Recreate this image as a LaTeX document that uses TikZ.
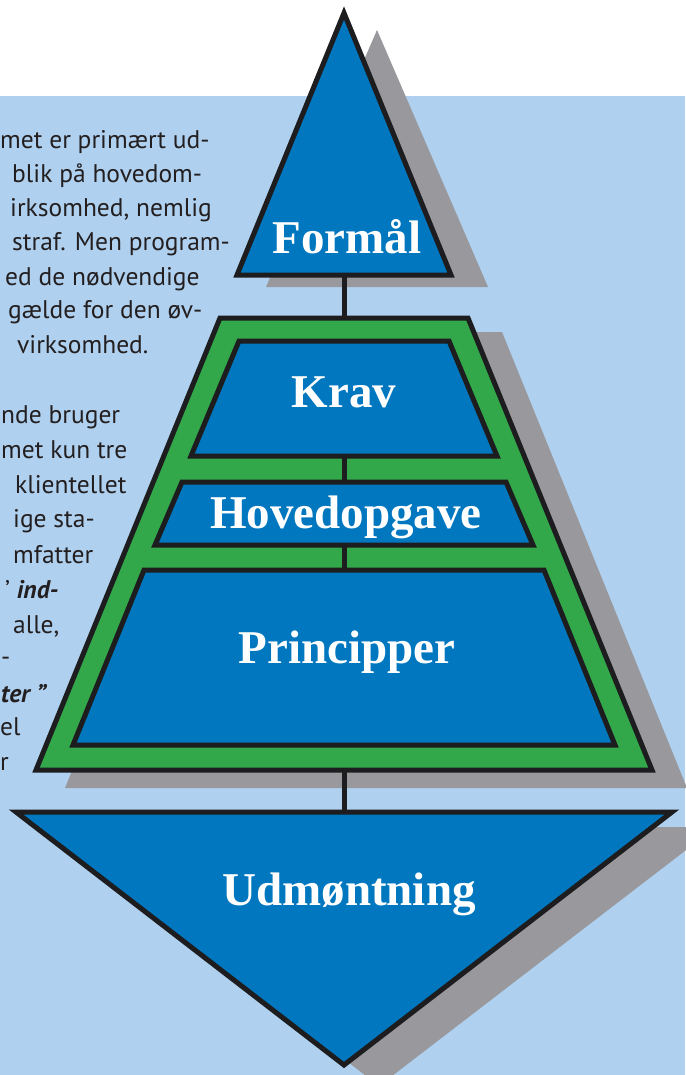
\documentclass[tikz,border=0pt]{standalone}
\usepackage{fontspec}
\newfontfamily\bodyfont{PT Sans}
\newfontfamily\labelfont{Liberation Serif}
\definecolor{bgblue}{RGB}{175,208,238}
\definecolor{boxblue}{RGB}{0,119,191}
\definecolor{pyrgreen}{RGB}{50,168,74}
\definecolor{shadowgrey}{RGB}{152,152,157}
\definecolor{outline}{RGB}{29,29,31}
\definecolor{bodytext}{RGB}{35,31,32}
\begin{document}
\begin{tikzpicture}[x=1pt,y=-1pt,
  shadowfill/.style={fill=shadowgrey,draw=none},
  bluebox/.style={fill=boxblue,draw=outline,line width=5pt,line join=miter},
  band/.style={fill=pyrgreen,draw=outline,line width=5pt,line join=miter},
  link/.style={draw=outline,line width=5pt},
  lbl/.style={text=white,font=\labelfont\bfseries\fontsize{47}{47}\selectfont,anchor=base,inner sep=0pt},
  body/.style={text=bodytext,font=\bodyfont\fontsize{25.5}{25.5}\selectfont,anchor=base west,inner sep=0pt},
  bodyr/.style={body,anchor=base east}
]
\useasboundingbox (0,0) rectangle (685,1075);
\fill[white] (0,0) rectangle (685,1075);
\fill[bgblue] (0,96) rectangle (685,1075);

% body text, block 1
\node[body] (t1) at (0,149) {met er primært ud-};
\node[body] (t2) at (12,183) {blik på hovedom-};
\node[body] (t3) at (10,217) {irksomhed, nemlig};
\node[body] (t4) at (12,251) {straf. Men program-};
\node[body] (t5) at (5,285) {ed de nødvendige};
\node[body] (t6) at (8,318) {gælde for den øv-};
\node[body] (t7) at (17,353) {virksomhed.};
% body text, block 2
\node[body] (s1) at (1,423) {nde bruger};
\node[body] (s2) at (1,458) {met kun tre};
\node[body] (s3) at (15,493) {klientellet};
\node[body] (s4) at (13,527) {ige sta-};
\node[body] (s5) at (13,563) {mfatter};
\node[body] (s6) at (5,598) {’ \textbf{\textit{ind-}}};
\node[body] (s7) at (13,633) {alle,};
\node[body] (s8) at (1,665) {-};
\node[body] (s9) at (1,702) {\textbf{\textit{ter ”}}};
\node[body] (s10) at (0,735) {el};
\node[body] (s11) at (0,770) {r};

% shape corners
\coordinate (F1) at (344,13);  \coordinate (F2) at (451,275); \coordinate (F3) at (237,275);
\coordinate (G1) at (220,318); \coordinate (G2) at (468,318); \coordinate (G3) at (652,770); \coordinate (G4) at (36,770);
\coordinate (K1) at (239,341); \coordinate (K2) at (449,341); \coordinate (K3) at (497,456); \coordinate (K4) at (191,456);
\coordinate (H1) at (182,482); \coordinate (H2) at (506,482); \coordinate (H3) at (533,545); \coordinate (H4) at (155,545);
\coordinate (P1) at (144,570); \coordinate (P2) at (544,570); \coordinate (P3) at (615,745); \coordinate (P4) at (73,745);
\coordinate (U1) at (16,812);  \coordinate (U2) at (672,812); \coordinate (U3) at (344,1065);

% connector ends
\coordinate (formB) at (344,275);
\coordinate (greenT) at (344,318);
\coordinate (kravB) at (344,456);
\coordinate (hovT) at (344,482);
\coordinate (hovB) at (344,545);
\coordinate (prinT) at (344,570);
\coordinate (greenB) at (344,770);
\coordinate (udmT) at (344,812);

% shadows
\fill[shadowfill] (377,30) -- (488,287) -- (266,287) -- cycle;
\fill[shadowfill] (250,332) -- (502,332) -- (687,788) -- (65,788) -- cycle;
\fill[shadowfill] (44,827) -- (716,827) -- (379,1086) -- cycle;

% connectors between shapes
\draw[link] (formB) -- (greenT);
\draw[link] (greenB) -- (udmT);

% shapes
\draw[bluebox] (F1) -- (F2) -- (F3) -- cycle;
\draw[band] (G1) -- (G2) -- (G3) -- (G4) -- cycle;
\draw[link] (kravB) -- (hovT);
\draw[link] (hovB) -- (prinT);
\draw[bluebox] (K1) -- (K2) -- (K3) -- (K4) -- cycle;
\draw[bluebox] (H1) -- (H2) -- (H3) -- (H4) -- cycle;
\draw[bluebox] (P1) -- (P2) -- (P3) -- (P4) -- cycle;
\draw[bluebox] (U1) -- (U2) -- (U3) -- cycle;

% labels
\node[lbl] (formal) at (347,253) {Formål};
\node[lbl] (krav) at (344,407) {Krav};
\node[lbl] (hoved) at (346,528) {Hovedopgave};
\node[lbl] (princ) at (347,663) {Principper};
\node[lbl] (udm) at (349,905) {Udmøntning};
\end{tikzpicture}
\end{document}
